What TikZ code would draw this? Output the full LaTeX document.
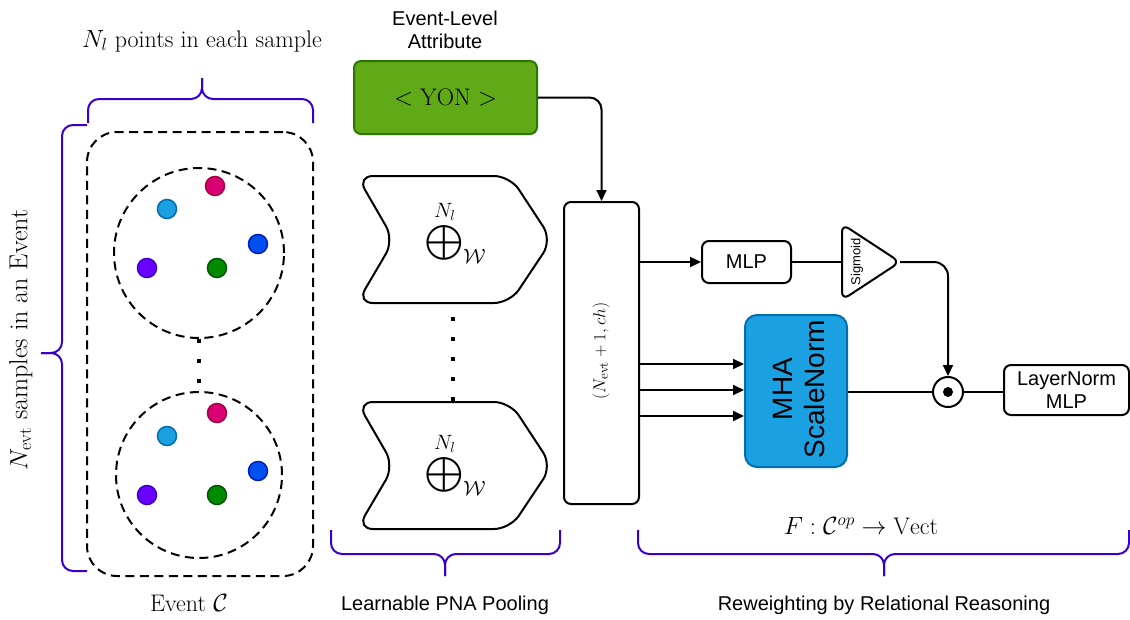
\documentclass[tikz,border=0pt]{standalone}
\usepackage{amsmath}
\usepackage{fontspec}
\setsansfont{Liberation Sans}
\usetikzlibrary{arrows.meta,calc}
\definecolor{braceC}{HTML}{3700CC}
\definecolor{greenF}{HTML}{60A917}
\definecolor{greenD}{HTML}{2D7600}
\definecolor{blueF}{HTML}{1BA1E2}
\definecolor{blueD}{HTML}{006EAF}
\definecolor{pinkF}{HTML}{D80073}
\definecolor{pinkD}{HTML}{A50040}
\definecolor{dblueF}{HTML}{0050EF}
\definecolor{dblueD}{HTML}{001DBC}
\definecolor{purpF}{HTML}{6A00FF}
\definecolor{purpD}{HTML}{3700CC}
\definecolor{grnF}{HTML}{008A00}
\definecolor{grnD}{HTML}{005700}
\newcommand{\pnasym}{$\displaystyle\overset{\mbox{\fontsize{21}{21}\selectfont$N_l$}}{\bigoplus}_{\mbox{\fontsize{21}{21}\selectfont$\mathcal{W}$}}$}
\begin{document}
\begin{tikzpicture}[x=1pt,y=-1pt,line width=2pt,
  brc/.style={draw=braceC,line width=2pt,rounded corners=11pt},
  sf/.style={font=\fontsize{20}{23}\selectfont\sffamily},
  rm/.style={font=\fontsize{24}{28}\selectfont},
  arr/.style={-{Triangle[length=11pt,width=10pt]},line width=2pt},
  pdot/.style={circle,minimum size=19pt,inner sep=0pt,line width=1.5pt},
  box/.style={draw,rounded corners=7pt,line width=2pt,inner sep=0pt},
  dashln/.style={dash pattern=on 9pt off 5.5pt,line width=2pt},
  sqdots/.style={dash pattern=on 4pt off 16pt,line width=4pt},
  pnash/.style={line width=2pt,rounded corners=16pt}]
\useasboundingbox (0,0) rectangle (1130,619);

% ---------- left part: event ----------
\node[draw,dashln,rounded corners=30pt,minimum width=226pt,minimum height=444pt] (ev) at (200,354) {};
\node[draw,dashln,circle,minimum size=170pt] (s1) at (199,253) {};
\node[draw,dashln,circle,minimum size=166pt] (s2) at (199,475) {};
\draw[sqdots] (s1.south) -- (s2.north);

\node[pdot,fill=pinkF,draw=pinkD]   (a1) at (215,186) {};
\node[pdot,fill=blueF,draw=blueD]   (a2) at (167,209) {};
\node[pdot,fill=dblueF,draw=dblueD] (a3) at (258,244) {};
\node[pdot,fill=purpF,draw=purpD]   (a4) at (147,268) {};
\node[pdot,fill=grnF,draw=grnD]     (a5) at (217,268) {};

\node[pdot,fill=pinkF,draw=pinkD]   (b1) at (217,413) {};
\node[pdot,fill=blueF,draw=blueD]   (b2) at (167,436) {};
\node[pdot,fill=dblueF,draw=dblueD] (b3) at (258,471) {};
\node[pdot,fill=purpF,draw=purpD]   (b4) at (147,495) {};
\node[pdot,fill=grnF,draw=grnD]     (b5) at (217,495) {};

% braces
\draw[brc] (88,123) -- (88,99) -- (202,99) -- (202,78);
\draw[brc] (313,123) -- (313,99) -- (202,99) -- (202,78);
\draw[brc] (87,125) -- (62,125) -- (62,353) -- (41,353);
\draw[brc] (87,571) -- (62,571) -- (62,353) -- (41,353);

\node[rm] (lblN) at (202,41) {$N_l$ points in each sample};
\node[font=\fontsize{26}{30}\selectfont,rotate=90] (lblE) at (21,340) {$N_{\mathrm{evt}}$ samples in an Event};
\node[rm] (lblC) at (189,603) {Event $\mathcal{C}$};

% ---------- attribute ----------
\node[sf,align=center] (attr) at (445,30) {Event-Level\\Attribute};
\node[box,fill=greenF,draw=greenD,minimum width=183pt,minimum height=73pt,rm] (yon) at (445.5,97.5) {$<$ YON $>$};

% ---------- PNA pooling ----------
\draw[pnash] (430,176) -- (510,176) -- (552,240) -- (510,303) -- (357,303) -- (394,240) -- (357,176) -- cycle;
\node[font=\fontsize{26}{30}\selectfont] (pna1) at (456,232) {\pnasym};
\draw[pnash] (430,402) -- (510,402) -- (552,466) -- (510,529) -- (357,529) -- (394,466) -- (357,402) -- cycle;
\node[font=\fontsize{26}{30}\selectfont] (pna2) at (456,464) {\pnasym};
\coordinate (d1) at (453,317);
\coordinate (d2) at (453,402);
\draw[sqdots] (d1) -- (d2);

% ---------- central box ----------
\node[box,minimum width=75pt,minimum height=302pt] (cb) at (601.5,353) {};
\node[font=\fontsize{19}{22}\selectfont,rotate=90] (cbl) at (601,351) {$(N_{\mathrm{evt}}+1,ch)$};
\draw[arr,rounded corners=12pt] (yon.east) -| (cb.north);

% ---------- reweighting ----------
\node[box,sf,minimum width=89pt,minimum height=42pt] (mlp) at (746.5,262) {MLP};
\draw[arr] (mlp.west -| cb.east) -- (mlp.west);
\draw[line width=2pt,rounded corners=8pt] (842,224) -- (900,262) -- (842,300) -- cycle;
\coordinate (sigL) at (842,262);
\coordinate (sigR) at (900,262);
\node[font=\fontsize{13}{15}\selectfont\sffamily,rotate=90] (sigt) at (857,262) {Sigmoid};
\draw (mlp.east) -- (sigL);

\node[box,fill=blueF,draw=blueD,minimum width=102pt,minimum height=152pt,rounded corners=12pt] (mha) at (796,391) {};
\node[font=\fontsize{28}{32}\selectfont\sffamily,rotate=90,align=center] (mhat) at (799,389) {MHA\\ScaleNorm};
\draw[arr] ([yshift=27pt]mha.west -| cb.east) -- ([yshift=27pt]mha.west);
\draw[arr] ([yshift=1pt]mha.west -| cb.east) -- ([yshift=1pt]mha.west);
\draw[arr] ([yshift=-25pt]mha.west -| cb.east) -- ([yshift=-25pt]mha.west);

\node[draw,circle,minimum size=30pt,inner sep=0pt,line width=2pt] (od) at (948,392) {};
\fill (od.center) circle (5pt);
\draw[arr,rounded corners=14pt] (sigR) -| (od.north);
\draw (mha.east |- od.west) -- (od.west);

\node[box,sf,align=center,minimum width=125pt,minimum height=50pt] (ln) at (1066.5,390) {LayerNorm\\MLP};
\draw (od.east) -- (od.east -| ln.west);

\node[rm] (Ft) at (861,526) {$F:\mathcal{C}^{op}\rightarrow\mathrm{Vect}$};

% bottom braces
\draw[brc] (331,530) -- (331,554) -- (445,554) -- (445,576);
\draw[brc] (560,530) -- (560,554) -- (445,554) -- (445,576);
\draw[brc] (638,530) -- (638,554) -- (884,554) -- (884,576);
\draw[brc] (1129,530) -- (1129,554) -- (884,554) -- (884,576);

\node[sf] (lblP) at (445,605) {Learnable PNA Pooling};
\node[sf] (lblR) at (884,605) {Reweighting by Relational Reasoning};
\end{tikzpicture}
\end{document}
